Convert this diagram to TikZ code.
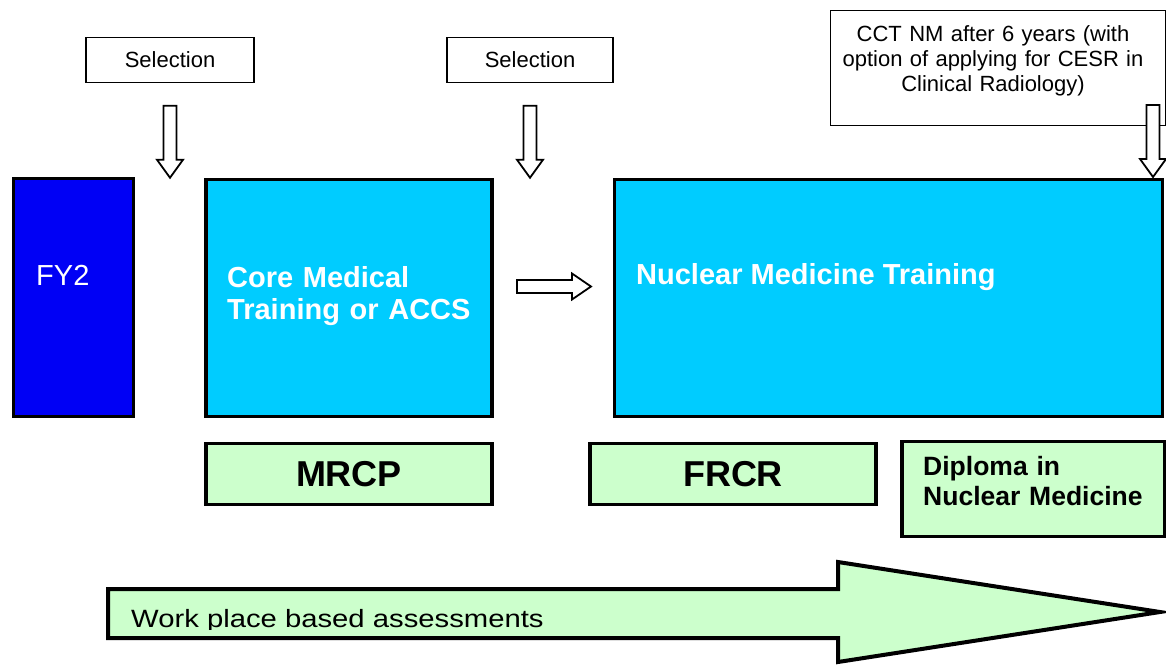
\documentclass[tikz,border=0pt]{standalone}
\usepackage{fontspec}
\setmainfont{Liberation Sans}
\usetikzlibrary{positioning,calc}

\definecolor{fyblue}{RGB}{0,0,245}
\definecolor{stagecyan}{RGB}{0,204,255}
\definecolor{exammint}{RGB}{204,255,204}

\begin{document}
\begin{tikzpicture}[
    x=1pt, y=-1pt,
    notebox/.style={draw, line width=1.4pt, inner sep=0pt, font=\fontsize{22}{25}\selectfont},
    stagebox/.style={draw, line width=3.5pt, fill=stagecyan, inner sep=0pt},
    exambox/.style={draw, line width=3.5pt, fill=exammint, inner sep=0pt, font=\fontsize{36}{40}\selectfont\bfseries},
    stagetext/.style={text=white, inner sep=0pt, align=left, font=\fontsize{29}{32}\selectfont\bfseries},
    hollow/.style={draw, line width=1.8pt, fill=white, line join=miter}
]
    \useasboundingbox (0,0) rectangle (1166,664);

    % entry points
    \node[notebox, minimum width=168, minimum height=45] (sel1) at (170,60) {Selection};
    \node[notebox, minimum width=166, minimum height=45] (sel2) at (530,60) {Selection};
    \node[notebox, minimum width=335, minimum height=115] (cct) at (998,68) {};
    \node[inner sep=0pt, text width=330, align=center, anchor=base,
          font=\fontsize{22}{25}\selectfont] (ccttext) at (993,41)
          {CCT NM after 6 years (with\\option of applying for CESR in\\Clinical Radiology)};

    % training stages
    \node[stagebox, fill=fyblue, minimum width=120, minimum height=238] (fy2) at (73.5,297.5) {};
    \node[stagebox, minimum width=286, minimum height=237] (core) at (349,298) {};
    \node[stagebox, minimum width=548, minimum height=237] (nmt) at (888.5,298) {};
    \node[stagetext, font=\fontsize{29}{32}\selectfont, anchor=base west] (fy2text) at (36,285) {FY2};
    \node[stagetext, text width=260, anchor=base west] (coretext) at (227,287) {Core Medical\\Training or ACCS};
    \node[stagetext, anchor=base west] (nmttext) at (636,284) {Nuclear Medicine Training};

    % exams
    \node[exambox, minimum width=286, minimum height=61] (mrcp) at (349,474) {MRCP};
    \node[exambox, minimum width=286, minimum height=61] (frcr) at (733,474) {FRCR};
    \node[exambox, minimum width=263, minimum height=95] (diploma) at (1033.5,489) {};
    \node[inner sep=0pt, text width=240, align=left, anchor=base west,
          font=\fontsize{26.5}{30}\selectfont\bfseries] (diplomatext) at (923,475)
          {Diploma in\\Nuclear Medicine};

    % hollow arrows
    \coordinate (tip1) at (sel1.south |- core.north);
    \coordinate (tip2) at (sel2.south |- core.north);
    \coordinate (tip3) at (1153,177);
    \coordinate (tip4) at (591,286.5);
    \foreach \t in {tip1,tip2,tip3}
        \draw[hollow] (\t) -- ++(13,-18) -- ++(-6.5,0) -- ++(0,-54) -- ++(-13,0)
            -- ++(0,54) -- ++(-6.5,0) -- cycle;
    \draw[hollow] (tip4) -- ++(-19,-13) -- ++(0,6.5) -- ++(-55,0) -- ++(0,13)
        -- ++(55,0) -- ++(0,6.5) -- cycle;

    % assessments arrow
    \draw[line width=4pt, fill=exammint, line join=miter]
        (108,589) -- (838,589) -- (838,562) -- (1160,612) -- (838,662)
        -- (838,638) -- (108,638) -- cycle;
    \begin{scope}
        \clip (110,591) rectangle (836,629);
        \node[inner sep=0pt, anchor=base west, font=\fontsize{25}{28}\selectfont]
            (wpba) at (131,627) {\scalebox{1.17}[1]{Work place based assessments}};
    \end{scope}
\end{tikzpicture}
\end{document}
